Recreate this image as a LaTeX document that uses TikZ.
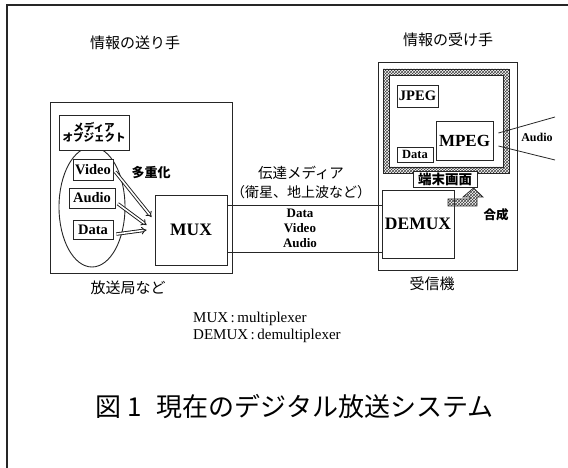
\documentclass[tikz,border=0pt]{standalone}
\usepackage{fontspec}
\setmainfont{Liberation Serif}
\newfontfamily\jp{Noto Sans CJK JP}
\usepackage{tikz}
\usetikzlibrary{positioning,arrows.meta,patterns}
\newcommand{\fsz}[1]{\fontsize{#1}{#1}\selectfont}
\tikzset{
line/.style={draw=black!85,line width=0.9pt},
box/.style={draw=black!85,line width=0.9pt,fill=white,inner sep=0pt,align=center},
jplab/.style={font=\jp\fsz{15}},
jpbold/.style={font=\jp\bfseries\fsz{13}},
objbox/.style={box,font=\bfseries\fsz{14.5}},
bigbox/.style={box,font=\bfseries\fsz{17.5},minimum width=72pt},
mulbox/.style={double,double distance=1.6pt,line width=0.9pt,draw=black!90,-{Implies},shorten <=3pt},
hatchfill/.style={pattern=crosshatch,pattern color=black!75},
note/.style={font=\fsz{15},anchor=west,inner sep=0pt}
}
\begin{document}
\begin{tikzpicture}[x=1pt,y=-1pt]
\useasboundingbox (0,0) rectangle (568,468);
% page frame
\draw[line width=1.6pt,black!85] (7,468) -- (7,5) -- (568,5);
% sender side
\node[jplab] (sendT) at (135,43) {情報の送り手};
\draw[line] (50,102) rectangle (232,273);
\node[jplab] (sendB) at (128,288) {放送局など};
\draw[line] (92,207) ellipse [x radius=33,y radius=60];
\node[box,font=\jp\bfseries\fsz{10.5},minimum width=70pt,minimum height=35pt] (media) at (94,132.5) {メディア\\[-1pt]オブジェクト};
\node[objbox,minimum width=40pt,minimum height=21pt] (video) at (93,169.5) {Video};
\node[objbox,minimum width=46pt,minimum height=20pt] (audio) at (92,198) {Audio};
\node[objbox,minimum width=40pt,minimum height=19pt] (data) at (93,229.5) {Data};
\node[bigbox,minimum height=70pt] (mux) at (191,230) {MUX};
\node[jpbold] (mulT) at (151,173) {多重化};
\draw[mulbox] (video.east) -- ([xshift=-3pt,yshift=13pt]mux.west);
\draw[mulbox] ([yshift=-4pt]audio.east) -- ([xshift=-8pt,yshift=5pt]mux.west);
\draw[mulbox] ([yshift=-5pt]data.east) -- ([xshift=-8pt]mux.west);
% receiver side
\node[jplab] (recvT) at (448,40) {情報の受け手};
\draw[line] (378,62) rectangle (517,270);
\node[jplab] (recvB) at (432,284) {受信機};
\fill[hatchfill,even odd rule] (383,69) rectangle (509,173) (389,75) rectangle (503,167);
\draw[line] (383,69) rectangle (509,173);
\draw[line] (389,75) rectangle (503,167);
\node[objbox,minimum width=41pt,minimum height=22pt] (jpeg) at (417.5,96) {JPEG};
\node[box,font=\bfseries\fsz{17},minimum width=57pt,minimum height=39pt] (mpeg) at (464.5,140.5) {MPEG};
\node[box,font=\bfseries\fsz{12.5},minimum width=36pt,minimum height=15pt] (sdata) at (415,154.5) {Data};
\node[box,font=\jp\bfseries\fsz{13.5},minimum width=64pt,minimum height=16pt] (screen) at (445,179) {端末画面};
\node[bigbox,minimum height=68pt] (demux) at (418,224) {DEMUX};
% composing arrow
\filldraw[hatchfill,draw=black!85,line width=0.7pt] (448,199) -- (470,199) -- (470,197) -- (463,197)
  -- (473.5,188) -- (483,197) -- (477,197) -- (477,206) -- (448,206) -- cycle;
\node[jpbold,font=\jp\bfseries\fsz{12.5}] (synT) at (496,215) {合成};
% audio output
\coordinate (audUp) at (555,117);
\coordinate (audDn) at (555,160);
\draw[line,line width=0.8pt] ([xshift=5pt,yshift=7.5pt]mpeg.east) -- (audUp);
\draw[line,line width=0.8pt] ([xshift=5pt,yshift=-5.5pt]mpeg.east) -- (audDn);
\node[font=\bfseries\fsz{12}] (audT) at (537,137) {Audio};
% transmission
\draw[line] ([yshift=25pt]mux.east) -- ([yshift=25pt]mux.east -| demux.west);
\draw[line] ([yshift=-22pt]mux.east) -- ([yshift=-22pt]mux.east -| demux.west);
\node[jplab,font=\jp\fsz{14.5}] (chT) at (301,173) {伝達メディア};
\node[jplab,font=\jp\fsz{14}] (chS) at (301,192) {（衛星、地上波など）};
\node[font=\bfseries\fsz{13},align=center,inner sep=0pt] (chD) at (300,228) {Data\\[2pt]Video\\[2pt]Audio};
% notes and caption
\node[note] (noteA) at (193,319) {MUX\,:\,multiplexer};
\node[note] (noteB) at (193,336) {DEMUX\,:\,demultiplexer};
\node[font=\jp\fsz{26},anchor=west,inner sep=0pt] (cap) at (95,407) {図\hspace{6pt}1\hspace{15pt}現在のデジタル放送システム};
\end{tikzpicture}
\end{document}
